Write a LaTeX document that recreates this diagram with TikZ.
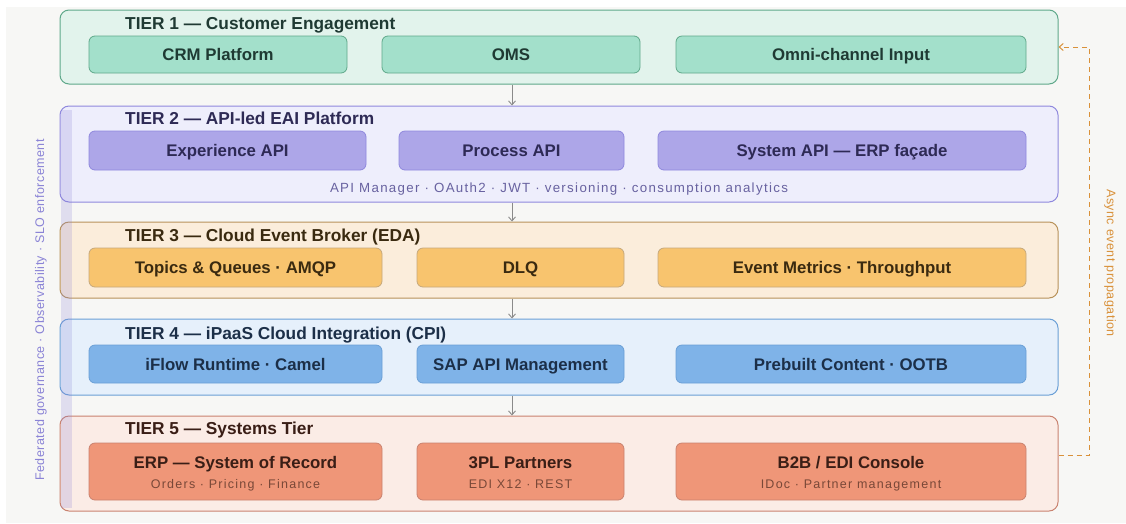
\documentclass[tikz,border=0pt]{standalone}
\usepackage{fontspec}
\setmainfont{Liberation Sans}
\newfontfamily\subfont[LetterSpace=10]{Liberation Sans}
\newfontfamily\sidefont[LetterSpace=4]{Liberation Sans}
\usetikzlibrary{arrows.meta}
\definecolor{bg}{HTML}{F7F7F5}
\definecolor{aF}{HTML}{E2F3EC}\definecolor{aD}{HTML}{5FA88A}\definecolor{aI}{HTML}{A3E0CB}\definecolor{aT}{HTML}{1F3A33}
\definecolor{bF}{HTML}{EEEEFC}\definecolor{bD}{HTML}{8F88DD}\definecolor{bI}{HTML}{ADA6E8}\definecolor{bT}{HTML}{2E2A55}
\definecolor{cF}{HTML}{FBEDDB}\definecolor{cD}{HTML}{B8925A}\definecolor{cI}{HTML}{F8C46E}\definecolor{cT}{HTML}{3A2A10}
\definecolor{dF}{HTML}{E6F0FB}\definecolor{dD}{HTML}{6A9FD6}\definecolor{dI}{HTML}{7FB3E8}\definecolor{dT}{HTML}{1C2F48}
\definecolor{eF}{HTML}{FBECE6}\definecolor{eD}{HTML}{C9826F}\definecolor{eI}{HTML}{EF9678}\definecolor{eT}{HTML}{3A1E16}
\definecolor{orng}{HTML}{D9913A}
\definecolor{purp}{HTML}{8A83D6}
\definecolor{arr}{HTML}{8A8A8A}
\tikzset{
  tier/.style={draw, line width=1pt, rounded corners=9pt, inner sep=0pt},
  inbox/.style={draw, line width=0.8pt, rounded corners=6pt, inner sep=0pt},
  lbl/.style={anchor=base, inner sep=0pt, font=\bfseries\fontsize{16.8}{18}\selectfont},
  ttl/.style={anchor=base west, font=\bfseries\fontsize{17.3}{19}\selectfont, inner sep=0pt},
  sub/.style={anchor=base, font=\subfont\fontsize{12.5}{14}\selectfont, inner sep=0pt},
  flow/.style={draw=arr, line width=0.9pt, -{Straight Barb[length=4pt,width=7pt]}},
  async/.style={draw=orng, line width=1pt, dash pattern=on 5pt off 4pt}
}
\newcommand{\tbox}[6]{% name, x1,y1,x2,y2, style
  \node[#6, minimum width=#4-#2, minimum height=#5-#3] (#1) at ({(#2+#4)/2},{(#3+#5)/2}) {};}
\begin{document}
\begin{tikzpicture}[x=1pt,y=-1pt]
\fill[white] (0,0) rectangle (1126,523);
\fill[bg] (6,7) rectangle (1126,523);
\useasboundingbox (0,0) rectangle (1126,523);
% tiers
\tbox{t1}{60}{10}{1058}{84}{tier, draw=aD, fill=aF}
\tbox{t2}{60}{106}{1058}{202}{tier, draw=bD, fill=bF}
\tbox{t3}{60}{222}{1058}{298}{tier, draw=cD, fill=cF}
\tbox{t4}{60}{319}{1058}{395}{tier, draw=dD, fill=dF}
\tbox{t5}{60}{416}{1058}{511}{tier, draw=eD, fill=eF}
% left band
\fill[purp, opacity=0.22] (61,110) rectangle (72,508);
% titles
\node[ttl, text=aT] (h1) at (125,29) {TIER 1 — Customer Engagement};
\node[ttl, text=bT] (h2) at (125,124) {TIER 2 — API-led EAI Platform};
\node[ttl, text=cT] (h3) at (125,241) {TIER 3 — Cloud Event Broker (EDA)};
\node[ttl, text=dT] (h4) at (125,339) {TIER 4 — iPaaS Cloud Integration (CPI)};
\node[ttl, text=eT] (h5) at (125,434) {TIER 5 — Systems Tier};
% tier 1 boxes
\tbox{crm}{89}{36}{347}{73}{inbox, draw=aD, fill=aI}
\tbox{oms}{382}{36}{640}{73}{inbox, draw=aD, fill=aI}
\tbox{omni}{676}{36}{1026}{73}{inbox, draw=aD, fill=aI}
\node[lbl, text=aT] at ([yshift=-6pt]crm.center) {CRM Platform};
\node[lbl, text=aT] at ([yshift=-6pt]oms.center) {OMS};
\node[lbl, text=aT] at ([yshift=-6pt]omni.center) {Omni-channel Input};
% tier 2 boxes
\tbox{exp}{89}{131}{366}{170}{inbox, draw=bD, fill=bI}
\tbox{proc}{399}{131}{624}{170}{inbox, draw=bD, fill=bI}
\tbox{sys}{658}{131}{1026}{170}{inbox, draw=bD, fill=bI}
\node[lbl, text=bT] at ([yshift=-6pt]exp.center) {Experience API};
\node[lbl, text=bT] at ([yshift=-6pt]proc.center) {Process API};
\node[lbl, text=bT] at ([yshift=-6pt]sys.center) {System API — ERP façade};
\node[sub, text=purp!75!black, font=\subfont\fontsize{13.3}{15}\selectfont] (s2) at (559,192) {API Manager · OAuth2 · JWT · versioning · consumption analytics};
% tier 3 boxes
\tbox{topics}{89}{248}{382}{287}{inbox, draw=cD!80, fill=cI}
\tbox{dlq}{417}{248}{624}{287}{inbox, draw=cD!80, fill=cI}
\tbox{evm}{658}{248}{1026}{287}{inbox, draw=cD!80, fill=cI}
\node[lbl, text=cT] at ([yshift=-6pt]topics.center) {Topics \& Queues · AMQP};
\node[lbl, text=cT] at ([yshift=-6pt]dlq.center) {DLQ};
\node[lbl, text=cT] at ([yshift=-6pt]evm.center) {Event Metrics · Throughput};
% tier 4 boxes
\tbox{iflow}{89}{345}{382}{383}{inbox, draw=dD, fill=dI}
\tbox{sapapi}{417}{345}{624}{383}{inbox, draw=dD, fill=dI}
\tbox{pre}{676}{345}{1026}{383}{inbox, draw=dD, fill=dI}
\node[lbl, text=dT] at ([yshift=-6pt]iflow.center) {iFlow Runtime · Camel};
\node[lbl, text=dT] at ([yshift=-6pt]sapapi.center) {SAP API Management};
\node[lbl, text=dT] at ([yshift=-6pt]pre.center) {Prebuilt Content · OOTB};
% tier 5 boxes
\tbox{erp}{89}{443}{382}{500}{inbox, draw=eD, fill=eI}
\tbox{tpl}{417}{443}{624}{500}{inbox, draw=eD, fill=eI}
\tbox{b2b}{676}{443}{1026}{500}{inbox, draw=eD, fill=eI}
\node[lbl, text=eT] at (235.5,468) {ERP — System of Record};
\node[sub, text=eT!65!eI] at (235.5,488) {Orders · Pricing · Finance};
\node[lbl, text=eT] at (520.5,468) {3PL Partners};
\node[sub, text=eT!65!eI] at (520.5,488) {EDI X12 · REST};
\node[lbl, text=eT] at (851,468) {B2B / EDI Console};
\node[sub, text=eT!65!eI] at (851,488) {IDoc · Partner management};
% flow arrows
\draw[flow] (t1.south -| 512,0) -- (t2.north -| 512,0);
\draw[flow] (t2.south -| 512,0) -- (t3.north -| 512,0);
\draw[flow] (t3.south -| 512,0) -- (t4.north -| 512,0);
\draw[flow] (t4.south -| 512,0) -- (t5.north -| 512,0);
% async
\coordinate (aLow) at (1089,455);
\coordinate (aHigh) at (1089,47);
\draw[async, -{Straight Barb[length=4pt,width=7pt]}] (t5.east |- aLow) -- (aLow) -- (aHigh) -- (t1.east |- aHigh);
\node[rotate=-90, text=orng, font=\sidefont\fontsize{12.5}{14}\selectfont, inner sep=0pt] (alab) at (1110,263) {Async event propagation};
% governance
\node[rotate=90, text=purp, font=\sidefont\fontsize{12.5}{14}\selectfont, inner sep=0pt] (gov) at (41,310) {Federated governance · Observability · SLO enforcement};
\end{tikzpicture}
\end{document}
